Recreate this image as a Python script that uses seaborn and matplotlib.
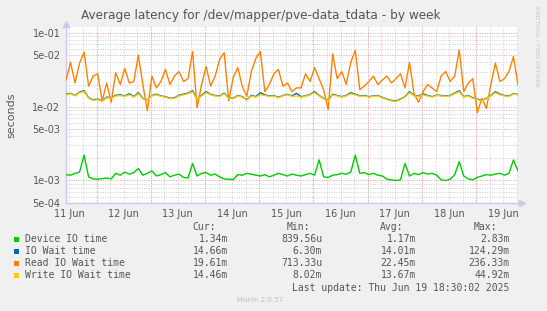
import numpy as np
import pandas as pd
import matplotlib
matplotlib.use("Agg")
import matplotlib.pyplot as plt
import matplotlib.dates as mdates
import matplotlib.ticker as mticker
import seaborn as sns

# ---------------- data ----------------
times = pd.date_range("2025-06-11 10:30", "2025-06-19 18:30", freq="2h")

series_names = ["Device IO time", "IO Wait time", "Read IO Wait time", "Write IO Wait time"]
series_colors = ["#00CC00", "#0066B3", "#FF8000", "#FFCC00"]

device_io = [
    0.00120, 0.00118, 0.00125, 0.00130, 0.00220, 0.00112, 0.00105, 0.00104, 0.00106, 0.00108,
    0.00105, 0.00125, 0.00118, 0.00130, 0.00122, 0.00128, 0.00145, 0.00118, 0.00125, 0.00135,
    0.00115, 0.00120, 0.00128, 0.00112, 0.00118, 0.00122,
    0.00110, 0.00108, 0.00170, 0.00115, 0.00125, 0.00128, 0.00118, 0.00122, 0.00112, 0.00105,
    0.00104, 0.00103, 0.00120, 0.00118, 0.00125, 0.00122, 0.00118, 0.00115, 0.00120, 0.00112,
    0.00118, 0.00125, 0.00120, 0.00115, 0.00122, 0.00118,
    0.00115, 0.00120, 0.00125, 0.00118, 0.00190, 0.00112, 0.00110, 0.00118, 0.00120, 0.00125,
    0.00122, 0.00130, 0.00220, 0.00125, 0.00128, 0.00120, 0.00125, 0.00118, 0.00115, 0.00104,
    0.00102, 0.00100, 0.00102, 0.00170, 0.00115,
    0.00125, 0.00120, 0.00128, 0.00122, 0.00125, 0.00118, 0.00102, 0.00100, 0.00104, 0.00120,
    0.00180, 0.00115, 0.00105, 0.00102, 0.00110, 0.00115, 0.00120, 0.00118, 0.00122, 0.00125,
    0.00118, 0.00125, 0.00190, 0.00134,
]

io_wait = [
    0.0148, 0.0152, 0.0142, 0.0158, 0.0165, 0.0132, 0.0124, 0.0127, 0.0120, 0.0135,
    0.0132, 0.0143, 0.0145, 0.0140, 0.0150, 0.0137, 0.0155, 0.0130, 0.0124, 0.0142,
    0.0148, 0.0140, 0.0137, 0.0130, 0.0132, 0.0143,
    0.0148, 0.0153, 0.0165, 0.0127, 0.0143, 0.0160, 0.0147, 0.0142, 0.0140, 0.0153,
    0.0132, 0.0130, 0.0142, 0.0137, 0.0124, 0.0143, 0.0137, 0.0155, 0.0145, 0.0140,
    0.0142, 0.0134, 0.0142, 0.0147, 0.0140, 0.0152,
    0.0137, 0.0140, 0.0147, 0.0160, 0.0142, 0.0130, 0.0122, 0.0148, 0.0142, 0.0137,
    0.0142, 0.0155, 0.0148, 0.0140, 0.0142, 0.0137, 0.0140, 0.0142, 0.0134, 0.0127,
    0.0122, 0.0120, 0.0127, 0.0137, 0.0160,
    0.0142, 0.0140, 0.0150, 0.0142, 0.0137, 0.0144, 0.0142, 0.0140, 0.0142, 0.0153,
    0.0165, 0.0137, 0.0142, 0.0132, 0.0127, 0.0122, 0.0130, 0.0142, 0.0160, 0.0148,
    0.0142, 0.0140, 0.0150, 0.01466,
]

read_io_wait = [
    0.023, 0.040, 0.021, 0.039, 0.055, 0.019, 0.026, 0.028, 0.012, 0.021,
    0.0115, 0.029, 0.020, 0.033, 0.021, 0.022, 0.050, 0.020, 0.0088, 0.026,
    0.018, 0.022, 0.032, 0.020, 0.026, 0.030,
    0.022, 0.024, 0.056, 0.0097, 0.020, 0.035, 0.019, 0.026, 0.044, 0.054,
    0.012, 0.025, 0.034, 0.019, 0.0138, 0.030, 0.045, 0.056, 0.016, 0.020,
    0.028, 0.032, 0.019, 0.021, 0.016, 0.018,
    0.018, 0.028, 0.022, 0.034, 0.024, 0.017, 0.0092, 0.052, 0.024, 0.030,
    0.020, 0.040, 0.058, 0.017, 0.019, 0.022, 0.026, 0.020, 0.023, 0.026,
    0.021, 0.024, 0.028, 0.018, 0.040,
    0.015, 0.0115, 0.016, 0.020, 0.018, 0.016, 0.026, 0.030, 0.022, 0.026,
    0.059, 0.016, 0.021, 0.024, 0.0083, 0.013, 0.0095, 0.020, 0.039, 0.022,
    0.024, 0.030, 0.048, 0.0196,
]

write_io_wait = [
    0.0145, 0.0150, 0.0140, 0.0155, 0.0160, 0.0130, 0.0122, 0.0125, 0.0118, 0.0132,
    0.0130, 0.0140, 0.0142, 0.0138, 0.0145, 0.0135, 0.0150, 0.0128, 0.0122, 0.0140,
    0.0145, 0.0138, 0.0135, 0.0128, 0.0130, 0.0140,
    0.0145, 0.0150, 0.0160, 0.0125, 0.0140, 0.0155, 0.0145, 0.0140, 0.0138, 0.0150,
    0.0130, 0.0128, 0.0140, 0.0135, 0.0122, 0.0140, 0.0135, 0.0145, 0.0142, 0.0138,
    0.0140, 0.0132, 0.0140, 0.0145, 0.0138, 0.0140,
    0.0135, 0.0138, 0.0145, 0.0155, 0.0140, 0.0128, 0.0120, 0.0145, 0.0140, 0.0135,
    0.0140, 0.0150, 0.0145, 0.0138, 0.0140, 0.0135, 0.0138, 0.0140, 0.0132, 0.0125,
    0.0120, 0.0118, 0.0125, 0.0135, 0.0155,
    0.0140, 0.0138, 0.0145, 0.0140, 0.0135, 0.0142, 0.0140, 0.0138, 0.0140, 0.0150,
    0.0160, 0.0135, 0.0140, 0.0130, 0.0125, 0.0120, 0.0128, 0.0140, 0.0155, 0.0145,
    0.0140, 0.0138, 0.0148, 0.01446,
]

stat_headers = ["Cur:", "Min:", "Avg:", "Max:"]
stat_cur = ["1.34m", "14.66m", "19.61m", "14.46m"]
stat_min = ["839.56u", "6.30m", "713.33u", "8.02m"]
stat_avg = ["1.17m", "14.01m", "22.45m", "13.67m"]
stat_max = ["2.83m", "124.29m", "236.33m", "44.92m"]

y_tick_values = [5e-4, 1e-3, 5e-3, 1e-2, 5e-2, 1e-1]
y_tick_labels = ["5e-04", "1e-03", "5e-03", "1e-02", "5e-02", "1e-01"]
day_labels = ["11 Jun", "12 Jun", "13 Jun", "14 Jun", "15 Jun", "16 Jun", "17 Jun", "18 Jun", "19 Jun"]

title_text = "Average latency for /dev/mapper/pve-data_tdata - by week"
last_update = "Last update: Thu Jun 19 18:30:02 2025"

# ---------------- build ----------------
all_values = device_io + io_wait + read_io_wait + write_io_wait
df = pd.DataFrame({
    "time": np.tile(times.values, 4),
    "value": all_values,
    "series": np.repeat(series_names, len(times)),
})

sns.set_style("white")
plt.rcParams["font.family"] = ["DejaVu Sans"]

W, H = 547, 311
fig = plt.figure(figsize=(W / 100, H / 100), dpi=100, facecolor="#F0F0F0")
ax = fig.add_axes([66 / W, 1 - 203 / H, 452 / W, 176 / H])
ax.set_facecolor("white")

sns.lineplot(data=df, x="time", y="value", hue="series", hue_order=series_names,
             palette=series_colors, legend=False, linewidth=1.0, estimator=None,
             ax=ax, zorder=3)

ax.set_yscale("log")
ax.set_ylim(4.95e-4, 0.1205)
ax.set_xlim(times[0], times[-1])

# y ticks / grid
ax.yaxis.set_major_locator(mticker.FixedLocator(y_tick_values))
ax.yaxis.set_major_formatter(mticker.FixedFormatter(y_tick_labels))
ax.yaxis.set_minor_locator(mticker.LogLocator(base=10, subs=[2, 3, 4, 6, 7, 8, 9], numticks=20))
ax.yaxis.set_minor_formatter(mticker.NullFormatter())

# x ticks: labels at noon, minor grid every 6 hours, red lines at midnight
noon_ticks = pd.date_range("2025-06-11 12:00", periods=len(day_labels), freq="D")
midnights = pd.date_range("2025-06-12 00:00", "2025-06-19 00:00", freq="D")
ax.xaxis.remove_overlapping_locs = False
ax.xaxis.set_major_locator(mticker.FixedLocator(mdates.date2num(noon_ticks)))
ax.xaxis.set_major_formatter(mticker.FixedFormatter(day_labels))
ax.xaxis.set_minor_locator(mdates.HourLocator(byhour=[0, 6, 12, 18]))

minor_grid = dict(color="#CCCCCC", linestyle=(0, (1, 1.5)), linewidth=0.7)
major_grid = dict(color="#E8A0A0", linestyle=(0, (1, 1.5)), linewidth=0.7)
ax.grid(which="minor", axis="both", **minor_grid)
ax.grid(which="major", axis="y", **major_grid)
ax.grid(which="major", axis="x", visible=False)
for m in midnights:
    ax.axvline(m, zorder=1, **major_grid)

ax.tick_params(axis="both", which="major", labelsize=7, colors="#555555", length=0, pad=4)
ax.tick_params(axis="both", which="minor", length=0)

for s in ["top", "right"]:
    ax.spines[s].set_visible(False)
for s in ["left", "bottom"]:
    ax.spines[s].set_color("#C8C8F0")
    ax.spines[s].set_linewidth(1.0)

# axis arrows
ax.plot([1.0, 1.008], [0, 0], transform=ax.transAxes, color="#C8C8F0", lw=1, clip_on=False)
ax.plot([1.008], [0], marker=">", markersize=4, transform=ax.transAxes, color="#C8C8F0", clip_on=False)
ax.plot([0, 0], [1.0, 1.015], transform=ax.transAxes, color="#C8C8F0", lw=1, clip_on=False)
ax.plot([0], [1.015], marker="^", markersize=4, transform=ax.transAxes, color="#C8C8F0", clip_on=False)

ax.set_xlabel("")
ax.set_ylabel("seconds", fontsize=8, color="#555555")
ax.yaxis.set_label_coords(-50 / 452, 0.5)

# title
fig.text(261 / W, 1 - 16 / H, title_text, ha="center", va="center", fontsize=8.7, color="#555555")

# side text
fig.text(537 / W, 1 - 6 / H, "RRDTOOL / TOBI OETIKER", rotation=270, ha="center", va="top",
         fontsize=4.5, color="#C8C8C8")

# legend / stats
mono = "DejaVu Sans Mono"
tcol = "#555555"
fs = 7
header_y = 227
header_x = [216, 310, 403.5, 497.5]
for hx, hdr in zip(header_x, stat_headers):
    fig.text(hx / W, 1 - header_y / H, hdr, ha="right", va="center", family=mono, fontsize=fs, color=tcol)

row_y = [239.5, 251.5, 263.5, 275.5]
col_x = [228, 322, 416, 509.5]
for i, name in enumerate(series_names):
    y = 1 - row_y[i] / H
    fig.patches.append(plt.Rectangle((13.5 / W, y - 2.7 / H), 5.2 / W, 5.2 / H,
                                     transform=fig.transFigure, facecolor=series_colors[i],
                                     edgecolor="none"))
    fig.text(25 / W, y, name, ha="left", va="center", family=mono, fontsize=fs, color=tcol)
    for cx, vals in zip(col_x, [stat_cur, stat_min, stat_avg, stat_max]):
        fig.text(cx / W, y, vals[i], ha="right", va="center", family=mono, fontsize=fs, color=tcol)

fig.text(509.5 / W, 1 - 288 / H, last_update, ha="right", va="center", family=mono, fontsize=fs, color=tcol)
fig.text(260 / W, 1 - 300 / H, "Munin 2.0.57", ha="center", va="center", fontsize=5, color="#C0C0C0")

fig.savefig("out.png", dpi=100, facecolor=fig.get_facecolor())
